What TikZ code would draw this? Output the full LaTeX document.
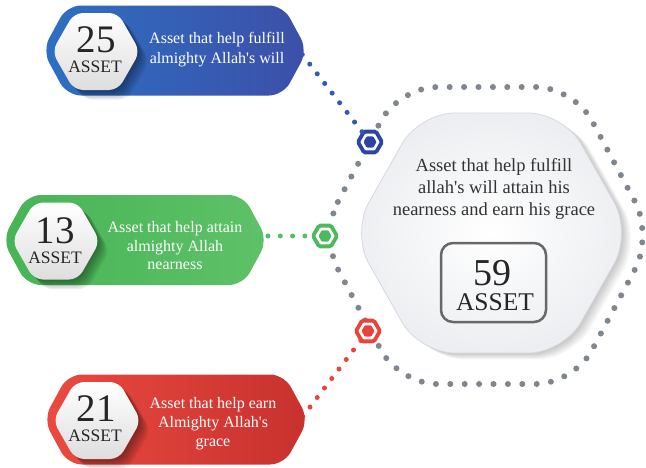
\documentclass[tikz,border=0pt]{standalone}
\usepackage{fontspec}
\setmainfont{Liberation Serif}
\usetikzlibrary{shapes.geometric}
\definecolor{bannerBlueL}{HTML}{2C70C3}
\definecolor{bannerBlueR}{HTML}{3D4FA8}
\definecolor{bannerGreenL}{HTML}{46B455}
\definecolor{bannerGreenR}{HTML}{5FC168}
\definecolor{bannerRedL}{HTML}{EA4A40}
\definecolor{bannerRedR}{HTML}{C8312E}
\definecolor{dotGrey}{HTML}{7F868E}
\definecolor{mkBlue}{HTML}{2B45A3}
\definecolor{dotBlue}{HTML}{2D5AB3}
\definecolor{mkGreen}{HTML}{4DB85C}
\definecolor{dotGreen}{HTML}{57BC66}
\definecolor{mkRed}{HTML}{E9443B}
\definecolor{txtDark}{HTML}{262626}
\definecolor{txtMid}{HTML}{333333}
\definecolor{boxGrey}{HTML}{686868}
\definecolor{hexEdge}{HTML}{D6DAE0}
\definecolor{hexOuter}{HTML}{ECEEF1}
\newcommand\HexShape[2]{(#1-44,#2) -- (#1-22,#2-38.5) -- (#1+22,#2-38.5) -- (#1+44,#2) -- (#1+22,#2+38.5) -- (#1-22,#2+38.5) -- cycle}
\newcommand\BannerShape[2]{(#1-53.5,#2-1) -- (#1-29,#2-46) -- (#1+187,#2-46) -- (#1+211.5,#2-1) -- (#1+187,#2+44) -- (#1-29,#2+44) -- cycle}
\newcommand\BigHex{(351.5,233) -- (419.5,113) -- (563.5,113) -- (631.5,233) -- (563.5,353) -- (419.5,353) -- cycle}
\tikzset{
  mring/.style={regular polygon, regular polygon sides=6, minimum size=24pt, inner sep=0pt, outer sep=0pt, draw=#1, line width=3.8pt, fill=white, rounded corners=1.5pt},
  mcore/.style={regular polygon, regular polygon sides=6, minimum size=13pt, inner sep=0pt, fill=#1, rounded corners=1pt},
  dotline/.style={draw=#1, line width=5pt, line cap=round},
  dotring/.style={draw=dotGrey, line width=6pt, line cap=round, dash pattern=on 0pt off 14.4pt},
  bantext/.style={text=white, align=center, inner sep=0pt, font=\fontsize{16}{19}\selectfont},
  numtext/.style={text=txtDark, anchor=base, inner sep=0pt, text height=26pt, text depth=0pt, font=\fontsize{39}{39}\selectfont},
  assettext/.style={text=txtDark, anchor=base, inner sep=0pt, text height=12pt, text depth=0pt, font=\fontsize{17.5}{17.5}\selectfont},
  hexshadow/.style={black, opacity=0.075, rounded corners=9pt},
  whitehex/.style={rounded corners=9pt, top color=white, bottom color=black!13},
}
\begin{document}
\begin{tikzpicture}[x=1pt,y=-1pt]
\useasboundingbox (0,0) rectangle (646,467);
\fill[white] (0,0) rectangle (646,467);

% dotted outer hexagon
\draw[dotring, rounded corners=38pt] (320,235.5) -- (399,87) -- (574,87) -- (653,235.5) -- (574,384) -- (399,384) -- cycle;

% central hexagon with soft shadow
\foreach \k in {1,...,8} {
  \fill[black, opacity=0.026, rounded corners=35pt, shift={(1.2*\k,0.8*\k)}] \BigHex;
}
\shade[rounded corners=35pt, inner color=white, outer color=hexOuter] \BigHex;
\draw[hexEdge, line width=0.8pt, rounded corners=35pt] \BigHex;

\node[text=txtMid, align=center, inner sep=0pt, font=\fontsize{18.5}{22}\selectfont] (ctext) at (494,188.7)
  {Asset that help fulfill\\allah\textquotesingle s will attain his\\nearness and earn his grace};
\node[draw=boxGrey, line width=2.5pt, rounded corners=12pt, minimum width=105pt, minimum height=79pt, inner sep=0pt] (cbox) at (493.5,282.5) {};
\node[text=txtDark, anchor=base, inner sep=0pt, text height=25pt, text depth=0pt, font=\fontsize{38}{38}\selectfont] (c59) at (492.5,285) {59};
\node[text=txtDark, anchor=base, inner sep=0pt, text height=17pt, text depth=0pt, font=\fontsize{25.5}{25.5}\selectfont] (cass) at (495,310) {ASSET};

% markers
\node[mring=mkBlue] (mB) at (370,142) {};
\node[mcore=mkBlue] (mBc) at (mB) {};
\node[mring=mkGreen] (mG) at (325,236) {};
\node[mcore=mkGreen] (mGc) at (mG) {};
\node[mring=mkRed] (mR) at (368,331) {};
\node[mcore=mkRed] (mRc) at (mR) {};

% connector start points (hidden under banners)
\coordinate (bB) at (302.3,54.5);
\coordinate (bG) at (243.4,236);
\coordinate (bR) at (295.5,426);
\draw[dotline=dotBlue, dash pattern=on 0pt off 12.2pt] (bB) -- (mB);
\draw[dotline=dotGreen, dash pattern=on 0pt off 12.3pt] (bG) -- (mG);
\draw[dotline=mkRed, dash pattern=on 0pt off 11.95pt] (bR) -- (mR);

% banners
\shade[rounded corners=14pt, left color=bannerBlueL, right color=bannerBlueR] \BannerShape{96}{51.5};
\shade[rounded corners=14pt, left color=bannerGreenL, right color=bannerGreenR] \BannerShape{56}{241};
\shade[rounded corners=14pt, left color=bannerRedL, right color=bannerRedR] \BannerShape{97}{420.5};

% hexagon shadows and white hexagons
\foreach \cx/\cy in {96/51.5, 56/241, 97/420.5} {
  \foreach \k in {1,...,6} {
    \fill[hexshadow, shift={(1.6*\k,1.6*\k)}] \HexShape{\cx}{\cy};
  }
  \shade[whitehex] \HexShape{\cx}{\cy};
}

% numbers
\node[numtext] (n25) at (96,52.5) {25};
\node[assettext] (a25) at (95,72.5) {ASSET};
\node[numtext] (n13) at (55,243) {13};
\node[assettext] (a13) at (55,263) {ASSET};
\node[numtext] (n21) at (96,421.5) {21};
\node[assettext] (a21) at (95,441.5) {ASSET};

% banner texts
\node[bantext, font=\fontsize{16}{20}\selectfont] (tB) at (217,49.2) {Asset that help fulfill\\almighty Allah\textquotesingle s will};
\node[bantext, font=\fontsize{16}{18.5}\selectfont] (tG) at (175,245.8) {Asset that help attain\\almighty Allah\\nearness};
\node[bantext] (tR) at (213,424) {Asset that help earn\\Almighty Allah\textquotesingle s\\grace};
\end{tikzpicture}
\end{document}
